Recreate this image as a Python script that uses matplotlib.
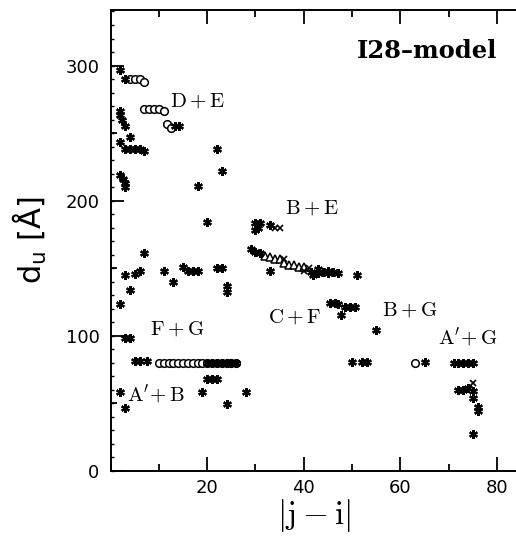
import matplotlib
matplotlib.use("Agg")
import matplotlib.pyplot as plt
from matplotlib.ticker import MultipleLocator

plt.rcParams["mathtext.fontset"] = "cm"

# asterisk points (|j-i|, d_u)
star_x = [2, 3, 2, 2, 2.3, 3, 4, 2, 3, 4, 5, 6, 7, 2, 2.5, 3, 3,
          22, 23, 18, 20, 13.3, 14.2,
          30, 30.5, 31, 30, 33, 7, 3, 5, 6, 4, 2, 11, 13,
          15, 16, 17, 18, 22, 23, 24, 24, 29, 30, 31, 33,
          41.5, 42, 43, 44, 45, 46, 47, 43, 45, 51,
          45.5, 46.5, 47, 47.8, 48.5, 49.5, 50.5, 55,
          50, 52, 53, 65, 71, 72, 73, 74, 75,
          72, 73, 74, 75, 75, 76, 76, 75,
          3, 4, 5, 6, 7.5,
          20, 21, 22, 23, 24, 25, 26,
          20, 21, 22, 19, 28, 24, 2, 3]
star_y = [297, 290, 266, 263, 260, 255, 247, 243, 238, 238, 238, 238, 237, 219, 216, 213, 210,
          238, 222, 211, 184, 255, 255,
          183, 180, 183, 178, 182, 161, 145, 145.5, 148, 134, 123, 148, 140,
          151, 148, 148, 148, 150, 150, 137, 132, 164, 162, 161, 148,
          147, 145, 146, 147, 146, 147, 146, 149, 148, 145,
          124, 124, 123, 115, 121, 121, 121, 104,
          80.5, 80.5, 80.5, 80.5, 80, 80, 80, 80, 80,
          60, 60, 61, 59, 54, 47, 44, 27,
          98, 98, 81, 81, 81,
          80, 80, 80, 80, 80, 80, 80,
          67.5, 67.5, 67.5, 58.5, 58.5, 49, 58.5, 46.5]

# open circles
circ_x = [4, 5, 6, 7, 7, 8, 9, 10, 11, 11.7, 12.6,
          10, 11, 12, 13, 14, 15, 16, 17, 18, 19, 20, 21, 22, 23, 24, 25, 26, 63]
circ_y = [290, 290, 290, 288, 268, 268, 268, 268, 266, 257, 254,
          80, 80, 80, 80, 80, 80, 80, 80, 80, 80, 80, 80, 80, 80, 80, 80, 80, 80]

# open triangles
tri_x = [32, 33, 34, 35, 36, 37, 38, 39, 40]
tri_y = [159, 158, 157, 157, 154, 152, 152, 151, 151]

# crosses
cross_x = [34, 35, 36, 40, 41, 75]
cross_y = [180, 180, 157, 148, 150, 65]

# pair labels
pair_labels = [r"$\mathrm{D+E}$", r"$\mathrm{B+E}$", r"$\mathrm{F+G}$", r"$\mathrm{C+F}$",
               r"$\mathrm{B+G}$", r"$\mathrm{A'\!+G}$", r"$\mathrm{A'\!+B}$"]
pair_x = [18, 41.7, 13.8, 38.2, 62, 73.9, 9.3]
pair_y = [274, 195, 105, 114, 119, 99, 57]

fig = plt.figure(figsize=(5.16, 5.37), dpi=100)
ax = fig.add_axes([0.2143, 0.1238, 0.7863, 0.8573])

ax.plot(circ_x, circ_y, "o", ms=5.5, mfc="white", mec="black", mew=1.1)
ax.plot(tri_x, tri_y, "^", ms=5.5, mfc="white", mec="black", mew=1.1)
ax.plot(cross_x, cross_y, "x", ms=4.5, color="black", mew=1.2)
ax.plot(star_x, star_y, marker=(6, 2, 0), ls="none", ms=6.2, color="black", mew=1.6)

for lab, lx, ly in zip(pair_labels, pair_x, pair_y):
    ax.text(lx, ly, lab, fontsize=15, ha="center", va="center")

ax.text(80, 311, "I28\u2013model", fontsize=17.5, fontweight="bold",
        family="DejaVu Serif", ha="right", va="center")

ax.set_xlim(0, 84)
ax.set_ylim(0, 341)
ax.xaxis.set_major_locator(MultipleLocator(20))
ax.xaxis.set_minor_locator(MultipleLocator(10))
ax.yaxis.set_major_locator(MultipleLocator(100))
ax.yaxis.set_minor_locator(MultipleLocator(50))
ax.set_xticks([20, 40, 60, 80])

ax.spines["right"].set_visible(False)
for s in ["left", "bottom", "top"]:
    ax.spines[s].set_linewidth(1.4)
ax.tick_params(axis="x", which="major", direction="in", length=10, width=1.3,
               top=True, labelsize=13, pad=6)
ax.tick_params(axis="x", which="minor", direction="in", length=5, width=1.3, top=True)
ax.tick_params(axis="y", which="major", direction="in", length=9, width=1.3,
               right=False, labelsize=13, pad=8)
ax.tick_params(axis="y", which="minor", direction="in", length=4, width=1.3, right=False)

# tiny ticks every 10 on the left axis
ax2 = ax.twinx()
ax2.set_ylim(ax.get_ylim())
ax2.yaxis.tick_left()
ax2.yaxis.set_major_locator(MultipleLocator(10))
ax2.tick_params(axis="y", direction="in", length=2, width=1.0, labelleft=False,
                labelright=False)
for s in ax2.spines.values():
    s.set_visible(False)

ax.set_xlabel(r"$|\mathrm{j}-\mathrm{i}|$", fontsize=24, labelpad=0)
ax.set_ylabel(r"d$_\mathrm{u}$ [Å]", fontsize=22, math_fontfamily="dejavusans", labelpad=12)

plt.savefig("out.png", dpi=100)
